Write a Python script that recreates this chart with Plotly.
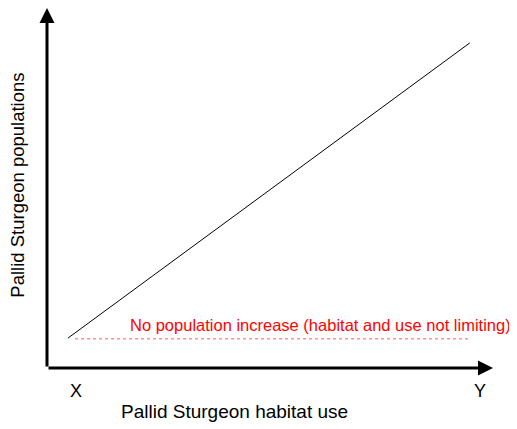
import plotly.graph_objects as go

# Conceptual data (arbitrary units, axes run 0..10)
line_x = [0.47, 9.48]
line_y = [0.83, 9.03]
base_x = [0.63, 9.48]
base_y = [0.81, 0.81]
tick_labels = ["X", "Y"]
tick_pos = [0.65, 9.7]
x_title = "Pallid Sturgeon habitat use"
y_title = "Pallid Sturgeon populations"
note = "No population increase (habitat and use not limiting)"

FONT = "Liberation Sans, Arial, sans-serif"

fig = go.Figure()
fig.add_trace(go.Scatter(x=line_x, y=line_y, mode="lines",
                         line=dict(color="black", width=1), hoverinfo="skip"))
fig.add_trace(go.Scatter(x=base_x, y=base_y, mode="lines",
                         line=dict(color="#ff5555", width=1, dash="3px,3px"), hoverinfo="skip"))

# axes with arrows
fig.add_annotation(x=0, y=10, ax=0, ay=0, xref="x", yref="y", axref="x", ayref="y",
                   showarrow=True, arrowhead=2, arrowsize=1.0, arrowwidth=3, arrowcolor="black", text="")
fig.add_annotation(x=10, y=0, ax=0, ay=0, xref="x", yref="y", axref="x", ayref="y",
                   showarrow=True, arrowhead=2, arrowsize=1.0, arrowwidth=3, arrowcolor="black", text="")

# paper coords: plot area spans x 0..1, y 0..1
for t, p in zip(tick_labels, tick_pos):
    fig.add_annotation(x=p / 10, y=-0.064, xref="paper", yref="paper", text=t, showarrow=False,
                       font=dict(family=FONT, size=18, color="black"),
                       xanchor="center", yanchor="middle")

fig.add_annotation(x=0.614, y=0.12, xref="paper", yref="paper", text=note, showarrow=False,
                   font=dict(family=FONT, size=16.5, color="#ff0000"),
                   xanchor="center", yanchor="middle")

fig.add_annotation(x=0.4215, y=-0.122, xref="paper", yref="paper", text=x_title, showarrow=False,
                   font=dict(family=FONT, size=19, color="black"),
                   xanchor="center", yanchor="middle")
fig.add_annotation(x=-0.066, y=0.508, xref="paper", yref="paper", text=y_title, showarrow=False,
                   textangle=-90, font=dict(family=FONT, size=18.5, color="black"),
                   xanchor="center", yanchor="middle")

fig.update_xaxes(range=[0, 10], visible=False, fixedrange=True)
fig.update_yaxes(range=[0, 10], visible=False, fixedrange=True)
fig.update_layout(width=509, height=421, margin=dict(l=39, r=24, t=0, b=61),
                  plot_bgcolor="white", paper_bgcolor="white", showlegend=False)

fig.write_html("out.html")
